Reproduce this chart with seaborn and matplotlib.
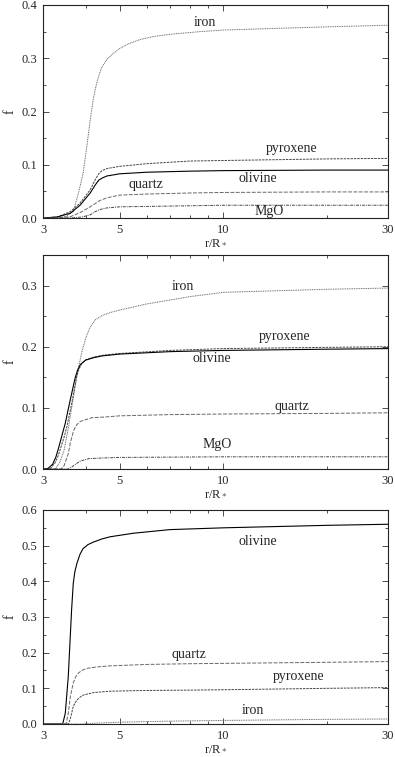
import numpy as np
import pandas as pd
import matplotlib
matplotlib.use("Agg")
import matplotlib.pyplot as plt
import seaborn as sns
from matplotlib.ticker import FixedLocator, NullFormatter, MultipleLocator

# DATA
# panel 1
p1_iron_x = [3.0, 3.3, 3.5, 3.67, 3.8, 3.92, 4.02, 4.11, 4.2, 4.29, 4.37, 4.45, 4.59, 4.75, 5.0, 5.3, 5.73, 6.3, 7.0, 8.55, 10.0, 20.0, 30.0]
p1_iron_f = [0.0, 0.0, 0.003, 0.012, 0.047, 0.084, 0.135, 0.184, 0.225, 0.253, 0.271, 0.284, 0.297, 0.307, 0.318, 0.327, 0.335, 0.341, 0.345, 0.350, 0.353, 0.359, 0.362]
p1_pyro_x = [3.0, 3.3, 3.6, 3.84, 4.11, 4.25, 4.35, 4.45, 4.6, 4.8, 5.0, 6.0, 8.0, 10.0, 20.0, 30.0]
p1_pyro_f = [0.0, 0.002, 0.012, 0.028, 0.053, 0.072, 0.083, 0.089, 0.093, 0.095, 0.097, 0.102, 0.107, 0.108, 0.111, 0.112]
p1_oliv_x = [3.0, 3.3, 3.6, 3.84, 4.11, 4.25, 4.35, 4.45, 4.6, 4.8, 5.0, 6.0, 8.0, 10.0, 20.0, 30.0]
p1_oliv_f = [0.0, 0.002, 0.009, 0.024, 0.047, 0.062, 0.071, 0.075, 0.079, 0.081, 0.083, 0.086, 0.088, 0.089, 0.090, 0.090]
p1_quar_x = [3.0, 3.3, 3.6, 3.84, 4.11, 4.39, 4.6, 5.0, 6.0, 8.0, 10.0, 20.0, 30.0]
p1_quar_f = [0.0, 0.0, 0.0025, 0.010, 0.021, 0.033, 0.038, 0.043, 0.045, 0.047, 0.048, 0.049, 0.049]
p1_mgo_x = [3.0, 3.6, 3.9, 4.11, 4.25, 4.39, 4.6, 5.0, 8.0, 10.0, 30.0]
p1_mgo_f = [0.0, 0.0, 0.002, 0.006, 0.012, 0.016, 0.019, 0.021, 0.023, 0.024, 0.024]

# panel 2
p2_oliv_x = [3.0, 3.1, 3.2, 3.27, 3.33, 3.4, 3.48, 3.6, 3.72, 3.78, 3.85, 3.98, 4.2, 4.45, 5.0, 7.0, 10.0, 20.0, 30.0]
p2_oliv_f = [0.0, 0.001, 0.008, 0.02, 0.035, 0.054, 0.075, 0.114, 0.150, 0.162, 0.171, 0.178, 0.182, 0.185, 0.188, 0.192, 0.194, 0.196, 0.197]
p2_pyro_x = [3.0, 3.15, 3.25, 3.32, 3.4, 3.46, 3.52, 3.64, 3.75, 3.81, 3.88, 4.0, 4.2, 4.45, 5.0, 7.0, 10.0, 20.0, 30.0]
p2_pyro_f = [0.0, 0.001, 0.01, 0.022, 0.040, 0.054, 0.070, 0.110, 0.150, 0.163, 0.172, 0.179, 0.183, 0.186, 0.189, 0.194, 0.197, 0.199, 0.200]
p2_iron_x = [3.0, 3.25, 3.35, 3.45, 3.56, 3.68, 3.78, 3.9, 4.0, 4.1, 4.25, 4.45, 4.7, 5.0, 6.0, 8.0, 10.0, 20.0, 30.0]
p2_iron_f = [0.0, 0.0, 0.010, 0.030, 0.070, 0.120, 0.160, 0.195, 0.216, 0.231, 0.244, 0.251, 0.256, 0.260, 0.270, 0.282, 0.289, 0.294, 0.296]
p2_quar_x = [3.0, 3.38, 3.45, 3.55, 3.6, 3.68, 3.75, 3.85, 4.16, 4.5, 5.0, 7.0, 10.0, 20.0, 30.0]
p2_quar_f = [0.0, 0.0, 0.005, 0.025, 0.043, 0.063, 0.072, 0.078, 0.084, 0.085, 0.087, 0.089, 0.090, 0.091, 0.092]
p2_mgo_x = [3.0, 3.55, 3.65, 3.75, 3.85, 4.07, 4.45, 5.0, 10.0, 30.0]
p2_mgo_f = [0.0, 0.0, 0.004, 0.009, 0.013, 0.017, 0.018, 0.019, 0.020, 0.020]

# panel 3
p3_oliv_x = [3.0, 3.42, 3.48, 3.55, 3.63, 3.67, 3.71, 3.76, 3.84, 3.92, 4.05, 4.2, 4.45, 4.7, 5.5, 7.0, 10.0, 20.0, 30.0]
p3_oliv_f = [0.0, 0.0, 0.030, 0.133, 0.320, 0.394, 0.427, 0.450, 0.476, 0.492, 0.503, 0.510, 0.519, 0.525, 0.535, 0.545, 0.550, 0.557, 0.560]
p3_quar_x = [3.0, 3.5, 3.55, 3.6, 3.67, 3.73, 3.8, 3.9, 4.02, 4.3, 4.7, 6.0, 8.0, 10.0, 20.0, 30.0]
p3_quar_f = [0.0, 0.0, 0.030, 0.077, 0.115, 0.132, 0.143, 0.151, 0.156, 0.160, 0.163, 0.167, 0.169, 0.170, 0.173, 0.175]
p3_pyro_x = [3.0, 3.55, 3.6, 3.67, 3.72, 3.76, 3.84, 3.92, 4.2, 4.7, 6.0, 8.0, 10.0, 20.0, 30.0]
p3_pyro_f = [0.0, 0.0, 0.015, 0.049, 0.060, 0.067, 0.075, 0.081, 0.088, 0.092, 0.094, 0.095, 0.096, 0.100, 0.102]
p3_iron_x = [3.0, 3.9, 4.2, 5.0, 7.0, 10.0, 20.0, 30.0]
p3_iron_f = [0.0, 0.0, 0.002, 0.005, 0.008, 0.010, 0.013, 0.014]

# curve labels: (text, x, f)
p1_labels = [("iron", 8.85, 0.368), ("pyroxene", 15.8, 0.131), ("olivine", 12.6, 0.075),
             ("quartz", 5.97, 0.062), ("MgO", 13.6, 0.013)]
p2_labels = [("iron", 7.64, 0.298), ("pyroxene", 15.1, 0.217), ("olivine", 9.27, 0.180),
             ("quartz", 15.8, 0.103), ("MgO", 9.57, 0.040)]
p3_labels = [("olivine", 12.6, 0.511), ("quartz", 7.94, 0.196), ("pyroxene", 16.5, 0.132),
             ("iron", 12.2, 0.039)]

p1_ymax, p2_ymax, p3_ymax = 0.4, 0.35, 0.6
xticks = [3, 5, 10, 30]
xminor = [4, 6, 7, 8, 9, 20]

# line styles per species
styles = {
    "olivine": dict(color="black", linestyle="-", linewidth=0.8),
    "pyroxene": dict(color="#444444", linestyle=(0, (2.5, 1)), linewidth=0.7),
    "iron": dict(color="#666666", linestyle=(0, (1, 0.8)), linewidth=0.7),
    "quartz": dict(color="#666666", linestyle=(0, (4, 1.5)), linewidth=0.7),
    "MgO": dict(color="#444444", linestyle=(0, (3, 1, 1, 1)), linewidth=0.7),
}

sns.set_theme(style="ticks")
plt.rcParams['font.family'] = ['Liberation Serif', 'DejaVu Serif']
plt.rcParams['mathtext.fontset'] = 'stix'

fig = plt.figure(figsize=(3.95, 7.57), dpi=100)
# axes positions in figure fractions
positions = [[0.109, 0.712, 0.873, 0.2814],
             [0.109, 0.3804, 0.873, 0.2827],
             [0.109, 0.0436, 0.873, 0.2827]]

panels = [
    ([("iron", p1_iron_x, p1_iron_f), ("pyroxene", p1_pyro_x, p1_pyro_f),
      ("olivine", p1_oliv_x, p1_oliv_f), ("quartz", p1_quar_x, p1_quar_f),
      ("MgO", p1_mgo_x, p1_mgo_f)], p1_labels, p1_ymax),
    ([("iron", p2_iron_x, p2_iron_f), ("pyroxene", p2_pyro_x, p2_pyro_f),
      ("olivine", p2_oliv_x, p2_oliv_f), ("quartz", p2_quar_x, p2_quar_f),
      ("MgO", p2_mgo_x, p2_mgo_f)], p2_labels, p2_ymax),
    ([("olivine", p3_oliv_x, p3_oliv_f), ("quartz", p3_quar_x, p3_quar_f),
      ("pyroxene", p3_pyro_x, p3_pyro_f), ("iron", p3_iron_x, p3_iron_f)],
     p3_labels, p3_ymax),
]

for pos, (curves, labels, ymax) in zip(positions, panels):
    ax = fig.add_axes(pos)
    for name, xs, fs in curves:
        df = pd.DataFrame({"r": xs, "f": fs})
        sns.lineplot(data=df, x="r", y="f", ax=ax, **styles[name])
    for text, tx, ty in labels:
        ax.text(tx, ty, text, ha="center", va="center", fontsize=10)
    ax.set_xscale("log")
    ax.set_xlim(3, 30)
    ax.set_ylim(0, ymax)
    ax.xaxis.set_major_locator(FixedLocator(xticks))
    ax.xaxis.set_minor_locator(FixedLocator(xminor))
    ax.xaxis.set_minor_formatter(NullFormatter())
    ax.set_xticklabels([str(t) for t in xticks])
    ax.yaxis.set_major_locator(MultipleLocator(0.1))
    ax.yaxis.set_minor_locator(MultipleLocator(0.05))
    ax.yaxis.set_major_formatter(plt.FuncFormatter(lambda v, p: "%.1f" % v))
    ax.tick_params(which="both", direction="in", top=True, right=True,
                   labelsize=9, width=0.6, color="#333333", pad=4)
    ax.tick_params(which="major", length=4)
    ax.tick_params(which="minor", length=2.5)
    for sp in ax.spines.values():
        sp.set_linewidth(0.8)
        sp.set_color("#222222")
    ax.set_xlabel(r"r/R$_*$", fontsize=9, labelpad=1)
    ax.set_ylabel("f", fontsize=10, labelpad=4)

fig.savefig("out.png", dpi=100)
